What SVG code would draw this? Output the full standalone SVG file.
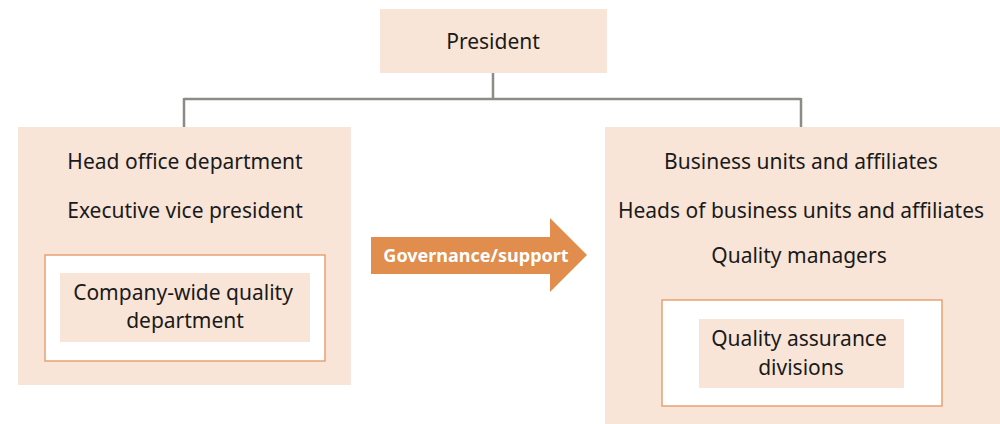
<svg xmlns="http://www.w3.org/2000/svg" width="1000" height="424" viewBox="0 0 1000 424">
<style>
.box{fill:#f9e5d8}
.frame{fill:#fff;stroke:#e8a171;stroke-width:1.5}
.t{font-family:"Noto Sans","Open Sans",sans-serif;font-size:21px;fill:#1a1a1a;text-anchor:middle}
.lbl{font-family:"Noto Sans","Open Sans",sans-serif;font-size:18px;font-weight:bold;fill:#fff;text-anchor:middle}
.conn{fill:none;stroke:#8c8c86;stroke-width:2.5}
</style>
<g id="connectors">
<path class="conn" d="M493,73 V99 M184,99 H801 M184,98 V127 M801,98 V127"/>
</g>
<g id="president">
<rect class="box" x="380" y="9" width="227" height="64"/>
<text class="t" x="493" y="49">President</text>
</g>
<g id="head-office">
<rect class="box" x="18" y="127" width="333" height="258"/>
<text class="t" x="185" y="169">Head office department</text>
<text class="t" x="185" y="218">Executive vice president</text>
<rect class="frame" x="45" y="255" width="280" height="106"/>
<rect class="box" x="60" y="273" width="250" height="69"/>
<text class="t" x="183" y="300">Company-wide quality</text>
<text class="t" x="185" y="328">department</text>
</g>
<g id="governance-arrow">
<polygon points="371,237 550,237 550,218 587,255 550,292 550,274 371,274" fill="#e08d4d"/>
<text class="lbl" x="476" y="262">Governance/support</text>
</g>
<g id="business-units">
<rect class="box" x="605" y="127" width="395" height="297"/>
<text class="t" x="801" y="169">Business units and affiliates</text>
<text class="t" x="801" y="218">Heads of business units and affiliates</text>
<text class="t" x="799" y="263">Quality managers</text>
<rect class="frame" x="662" y="300" width="280" height="106"/>
<rect class="box" x="699" y="319" width="205" height="69"/>
<text class="t" x="799" y="346">Quality assurance</text>
<text class="t" x="801" y="375">divisions</text>
</g>
</svg>
